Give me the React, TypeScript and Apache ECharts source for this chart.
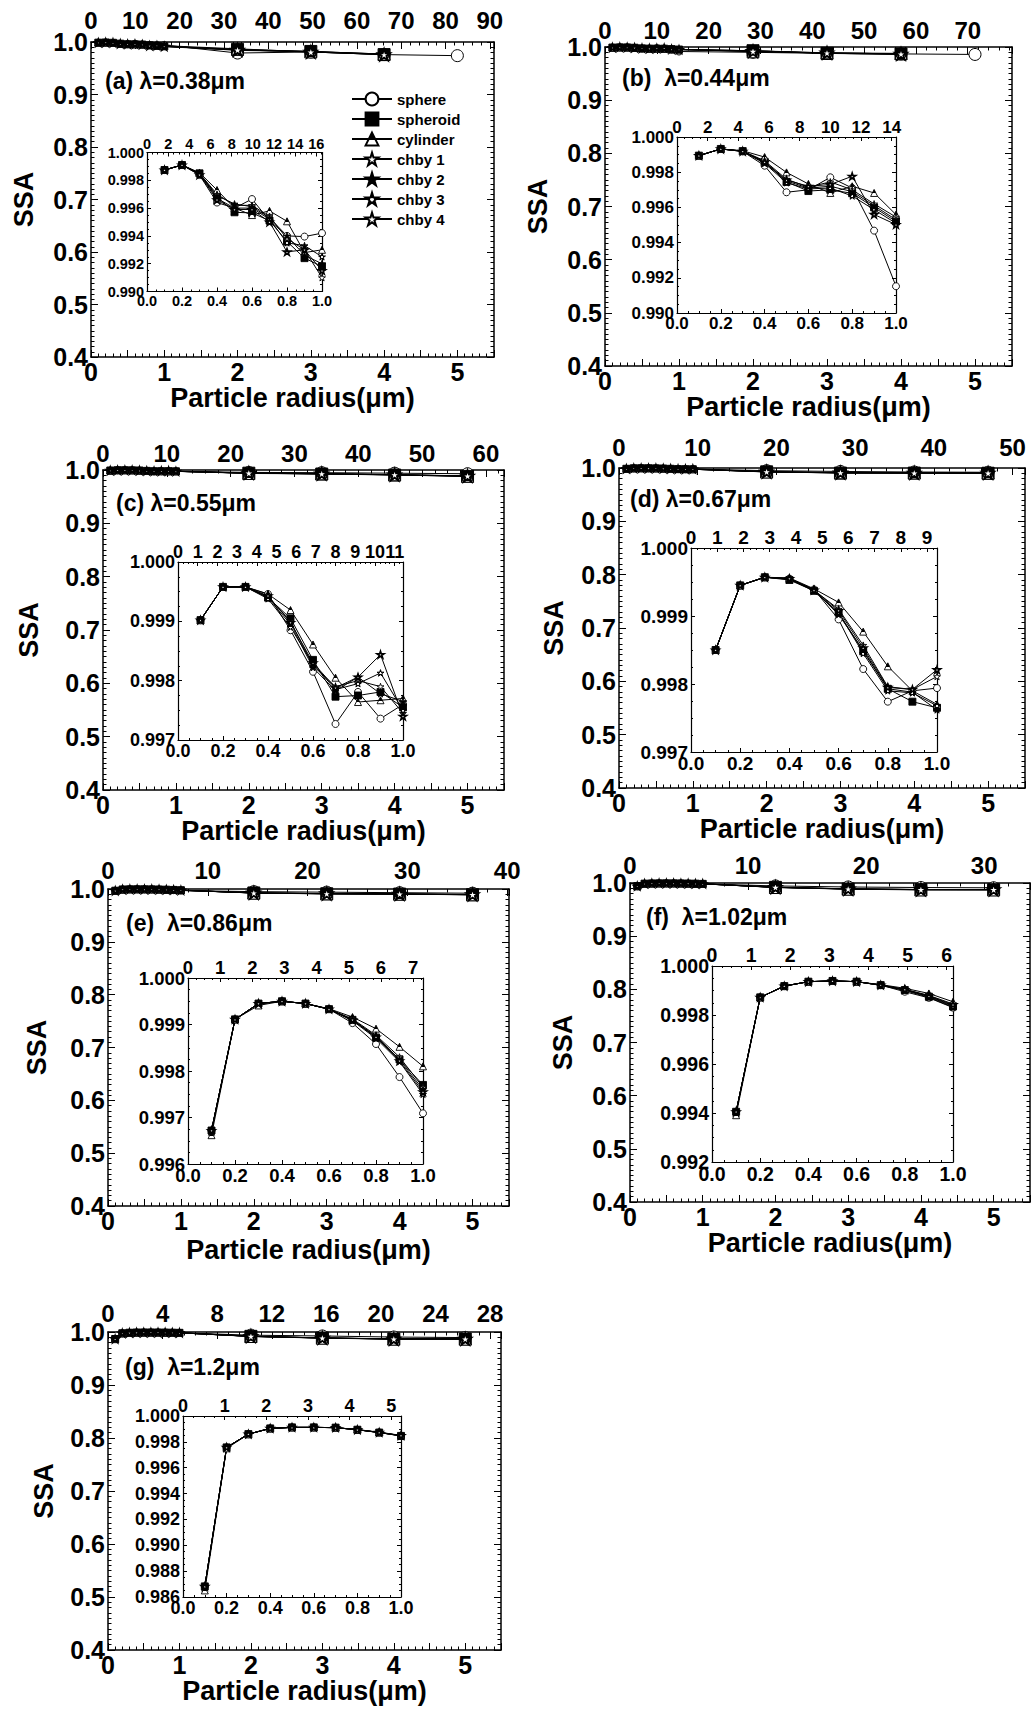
import React, { useEffect, useRef } from "react";
import * as echarts from "echarts";

// ---- data ----------------------------------------------------------------
const SHAPES = ["sphere", "spheroid", "cylinder", "chby 1", "chby 2", "chby 3", "chby 4"];
const WAVELENGTHS = [0.38, 0.44, 0.55, 0.67, 0.86, 1.02, 1.2];
const PANEL_TITLES = [
  "(a) λ=0.38μm",
  "(b)  λ=0.44μm",
  "(c) λ=0.55μm",
  "(d) λ=0.67μm",
  "(e)  λ=0.86μm",
  "(f)  λ=1.02μm",
  "(g)  λ=1.2μm",
];
const RADIUS_FINE = [0.1, 0.2, 0.3, 0.4, 0.5, 0.6, 0.7, 0.8, 0.9, 1.0];
const RADIUS_COARSE = [2, 3, 4, 5];
const RADIUS_MAX = 5.5;

// SSA at r = 0.1 … 1.0 µm, rows in SHAPES order
const fineA = [
  [0.99874, 0.9991, 0.99838, 0.9964, 0.996, 0.99665, 0.9951, 0.994, 0.99395, 0.9942],
  [0.99874, 0.9991, 0.9985, 0.9968, 0.9957, 0.99565, 0.9951, 0.9936, 0.9924, 0.9918],
  [0.99874, 0.9991, 0.99855, 0.9973, 0.996, 0.9955, 0.9958, 0.99505, 0.9928, 0.993],
  [0.99874, 0.9991, 0.9985, 0.997, 0.9962, 0.9962, 0.9954, 0.9938, 0.993, 0.991],
  [0.99874, 0.9991, 0.99848, 0.9969, 0.9963, 0.9961, 0.9953, 0.994, 0.9926, 0.992],
  [0.99874, 0.9991, 0.99845, 0.9967, 0.996, 0.996, 0.9952, 0.9935, 0.9933, 0.9925],
  [0.99874, 0.9991, 0.9984, 0.9966, 0.9959, 0.9959, 0.995, 0.99285, 0.993, 0.9915],
];
const fineB = [
  [0.99894, 0.99932, 0.99918, 0.99837, 0.99686, 0.997, 0.99771, 0.9971, 0.99468, 0.99152],
  [0.99894, 0.99932, 0.9992, 0.9986, 0.99745, 0.99693, 0.997, 0.9968, 0.996, 0.9952],
  [0.99894, 0.99932, 0.99922, 0.99886, 0.99799, 0.99733, 0.99682, 0.9972, 0.99682, 0.99559],
  [0.99894, 0.99932, 0.9992, 0.99865, 0.9976, 0.99715, 0.99745, 0.997, 0.9962, 0.99545],
  [0.99894, 0.99932, 0.9992, 0.99855, 0.9975, 0.9971, 0.9972, 0.9969, 0.9961, 0.9953],
  [0.99894, 0.99932, 0.99918, 0.9985, 0.9974, 0.99705, 0.9971, 0.99665, 0.99587, 0.9951],
  [0.99894, 0.99932, 0.99919, 0.99858, 0.99755, 0.9972, 0.9973, 0.99777, 0.9956, 0.99502],
];
const fineC = [
  [0.99902, 0.99958, 0.99958, 0.99946, 0.99885, 0.99815, 0.99727, 0.99781, 0.99736, 0.9976],
  [0.99902, 0.99958, 0.99958, 0.9994, 0.99905, 0.99835, 0.99773, 0.99775, 0.99781, 0.99755],
  [0.99902, 0.99958, 0.99958, 0.99946, 0.99919, 0.99861, 0.99805, 0.99764, 0.99767, 0.9977],
  [0.99902, 0.99958, 0.99958, 0.99942, 0.999, 0.99825, 0.9979, 0.998, 0.9979, 0.99745],
  [0.99902, 0.99958, 0.99958, 0.9994, 0.99895, 0.99822, 0.99783, 0.99806, 0.99778, 0.99765],
  [0.99902, 0.99958, 0.99958, 0.99938, 0.9989, 0.99828, 0.99785, 0.99795, 0.99813, 0.9975],
  [0.99902, 0.99958, 0.99958, 0.99943, 0.99898, 0.9983, 0.99788, 0.99806, 0.99844, 0.9974],
];
const fineD = [
  [0.9985, 0.99945, 0.99957, 0.99955, 0.99939, 0.99895, 0.99822, 0.99774, 0.9979, 0.99794],
  [0.9985, 0.99945, 0.99957, 0.99953, 0.99937, 0.99905, 0.99848, 0.99793, 0.99774, 0.99765],
  [0.9985, 0.99945, 0.99957, 0.99956, 0.9994, 0.9992, 0.99877, 0.99826, 0.9979, 0.9977],
  [0.9985, 0.99945, 0.99957, 0.99955, 0.99938, 0.9991, 0.99857, 0.99796, 0.99792, 0.99811],
  [0.9985, 0.99945, 0.99957, 0.99954, 0.99938, 0.99902, 0.9985, 0.99793, 0.99788, 0.99762],
  [0.9985, 0.99945, 0.99957, 0.99954, 0.99937, 0.99905, 0.99845, 0.9979, 0.99787, 0.99768],
  [0.9985, 0.99945, 0.99957, 0.99955, 0.99938, 0.99908, 0.99853, 0.99795, 0.99792, 0.99821],
];
const fineE = [
  [0.99672, 0.99911, 0.99945, 0.9995, 0.99945, 0.99933, 0.99903, 0.99858, 0.99787, 0.99709],
  [0.99672, 0.99911, 0.99945, 0.9995, 0.99945, 0.99933, 0.9991, 0.99872, 0.99825, 0.9977],
  [0.99662, 0.99911, 0.99941, 0.9995, 0.99945, 0.99934, 0.99916, 0.99891, 0.99852, 0.9981],
  [0.99672, 0.99911, 0.99945, 0.9995, 0.99945, 0.99933, 0.99912, 0.99877, 0.9983, 0.99765],
  [0.99672, 0.99911, 0.99945, 0.9995, 0.99945, 0.99933, 0.9991, 0.99875, 0.99825, 0.9976],
  [0.99672, 0.99911, 0.99945, 0.9995, 0.99945, 0.99933, 0.99908, 0.9987, 0.9982, 0.9975],
  [0.99672, 0.99911, 0.99945, 0.9995, 0.99945, 0.99933, 0.9991, 0.99873, 0.99822, 0.99755],
];
const fineF = [
  [0.99405, 0.99872, 0.99918, 0.99936, 0.99939, 0.99936, 0.99922, 0.99895, 0.9987, 0.9983],
  [0.99405, 0.99872, 0.99918, 0.99936, 0.99939, 0.99936, 0.99922, 0.99902, 0.99875, 0.99835],
  [0.99391, 0.99872, 0.99918, 0.99936, 0.99939, 0.99936, 0.99924, 0.99909, 0.99888, 0.99854],
  [0.99405, 0.99872, 0.99918, 0.99936, 0.99939, 0.99936, 0.99922, 0.99905, 0.9988, 0.99845],
  [0.99405, 0.99872, 0.99918, 0.99936, 0.99939, 0.99936, 0.99922, 0.99903, 0.99877, 0.99838],
  [0.99405, 0.99872, 0.99918, 0.99936, 0.99939, 0.99936, 0.99921, 0.999, 0.99872, 0.99832],
  [0.99405, 0.99872, 0.99918, 0.99936, 0.99939, 0.99936, 0.99922, 0.99904, 0.99878, 0.99842],
];
const fineG = [
  [0.98682, 0.99757, 0.9986, 0.99904, 0.99912, 0.99912, 0.9991, 0.99894, 0.99873, 0.99848],
  [0.98682, 0.99757, 0.9986, 0.99904, 0.99912, 0.99912, 0.9991, 0.99894, 0.99872, 0.99846],
  [0.98651, 0.9975, 0.99858, 0.99904, 0.99912, 0.99912, 0.9991, 0.99895, 0.99875, 0.9985],
  [0.98682, 0.99757, 0.9986, 0.99904, 0.99912, 0.99912, 0.9991, 0.99894, 0.99873, 0.99848],
  [0.98682, 0.99757, 0.9986, 0.99904, 0.99912, 0.99912, 0.9991, 0.99894, 0.99872, 0.99847],
  [0.98682, 0.99757, 0.9986, 0.99904, 0.99912, 0.99912, 0.9991, 0.99893, 0.99872, 0.99846],
  [0.98682, 0.99757, 0.9986, 0.99904, 0.99912, 0.99912, 0.9991, 0.99894, 0.99873, 0.99849],
];

// SSA at r = 2, 3, 4, 5 µm (shorter rows stop at 4 µm)
const coarseA = [
  [0.979, 0.981, 0.976, 0.974],
  [0.986, 0.982, 0.976],
  [0.987, 0.981, 0.977],
  [0.985, 0.982, 0.977],
  [0.985, 0.981, 0.976],
  [0.984, 0.982, 0.977],
  [0.985, 0.981, 0.976],
];
const coarseB = [
  [0.99, 0.988, 0.987, 0.986],
  [0.993, 0.988, 0.987],
  [0.991, 0.989, 0.988],
  [0.993, 0.989, 0.987],
  [0.992, 0.988, 0.987],
  [0.993, 0.988, 0.986],
  [0.992, 0.989, 0.987],
];
const coarseC = [
  [0.9955, 0.995, 0.994, 0.993],
  [0.994, 0.9925, 0.9906, 0.988],
  [0.9935, 0.9928, 0.991, 0.9885],
  [0.9942, 0.993, 0.9912, 0.9888],
  [0.994, 0.9927, 0.9908, 0.9882],
  [0.9941, 0.9929, 0.991, 0.9886],
  [0.9943, 0.9931, 0.9913, 0.9889],
];
const coarseD = [
  [0.995, 0.9935, 0.9925, 0.992],
  [0.9928, 0.9905, 0.9905, 0.9902],
  [0.9925, 0.991, 0.9908, 0.9905],
  [0.993, 0.9912, 0.9907, 0.9904],
  [0.9927, 0.9908, 0.9906, 0.9903],
  [0.9929, 0.9911, 0.9906, 0.9902],
  [0.9931, 0.9913, 0.9908, 0.9906],
];
const coarseE = [
  [0.995, 0.994, 0.993, 0.992],
  [0.9925, 0.991, 0.9904, 0.9892],
  [0.9922, 0.9908, 0.9902, 0.989],
  [0.9926, 0.9912, 0.9906, 0.9894],
  [0.9924, 0.9909, 0.9903, 0.9891],
  [0.9925, 0.9911, 0.9905, 0.9893],
  [0.9927, 0.9913, 0.9907, 0.9895],
];
const coarseF = [
  [0.9945, 0.9925, 0.9915, 0.991],
  [0.9918, 0.9887, 0.9875, 0.9874],
  [0.9915, 0.9884, 0.987, 0.987],
  [0.992, 0.9889, 0.9877, 0.9876],
  [0.9918, 0.9886, 0.9874, 0.9873],
  [0.9919, 0.9888, 0.9876, 0.9875],
  [0.9921, 0.989, 0.9878, 0.9877],
];
const coarseG = [
  [0.994, 0.9925, 0.9905, 0.9895],
  [0.9918, 0.9887, 0.9868, 0.9868],
  [0.9915, 0.9884, 0.9865, 0.9865],
  [0.9919, 0.9888, 0.9869, 0.9869],
  [0.9917, 0.9886, 0.9867, 0.9867],
  [0.9918, 0.9887, 0.9868, 0.9868],
  [0.992, 0.9889, 0.987, 0.987],
];

const FINE = [fineA, fineB, fineC, fineD, fineE, fineF, fineG];
const COARSE = [coarseA, coarseB, coarseC, coarseD, coarseE, coarseF, coarseG];

// inset SSA axis: [min, max, interval]
const INSET_SSA_AXIS = [
  [0.99, 1.0, 0.002],
  [0.99, 1.0, 0.002],
  [0.997, 1.0, 0.001],
  [0.997, 1.0, 0.001],
  [0.996, 1.0, 0.001],
  [0.992, 1.0, 0.002],
  [0.986, 1.0, 0.002],
];
const MAIN_SIZE_STEP = [10, 10, 10, 10, 10, 10, 4];
const INSET_SIZE_STEP = [2, 2, 1, 1, 1, 1, 1];

// ---- layout (px) ------------------------------------------------------------
const MAIN_BOX = [
  [91, 42, 403, 315],
  [605, 47, 407, 319],
  [103, 470, 401, 320],
  [619, 468, 406, 320],
  [108, 889, 401, 317],
  [630, 883, 401, 319],
  [108, 1332, 393, 318],
];
const INSET_BOX = [
  [147, 152.5, 175, 139],
  [677, 137, 219, 176],
  [178, 562, 225, 178],
  [691, 548, 246, 204],
  [188, 978, 235, 186],
  [712, 966, 241, 196],
  [183, 1416, 218, 181],
];
const INSET_FONT = [14.5, 17, 18, 19, 18.5, 19.5, 18];
const MAIN_TOP_MARGIN = [10, 5, 5, 9, 7, 6, 7];
const SSA_NAME_GAP = [54, 54, 61, 52, 58, 54, 51];
const RADIUS_NAME_GAP = [26, 23, 14, 15, 30, 27, 24];
const TITLE_POS = [
  [105, 81],
  [622, 78],
  [116, 503],
  [630, 499],
  [126, 923],
  [646, 917],
  [125, 1367],
];

const FONT = "'Liberation Sans', Arial, Helvetica, sans-serif";
const STAR =
  "path://M0,-10L2.245,-3.09L9.511,-3.09L3.633,1.18L5.878,8.09L0,3.82L-5.878,8.09L-3.633,1.18L-9.511,-3.09L-2.245,-3.09Z";

const halfBlack = {
  type: "linear",
  x: 0,
  y: 0,
  x2: 0,
  y2: 1,
  colorStops: [
    { offset: 0, color: "#000" },
    { offset: 0.55, color: "#000" },
    { offset: 0.56, color: "#fff" },
    { offset: 1, color: "#fff" },
  ],
};
const holedBlack = {
  type: "radial",
  x: 0.5,
  y: 0.55,
  r: 0.5,
  colorStops: [
    { offset: 0, color: "#fff" },
    { offset: 0.3, color: "#fff" },
    { offset: 0.32, color: "#000" },
    { offset: 1, color: "#000" },
  ],
};

const MARKERS: { symbol: string; fill: any; border: number }[] = [
  { symbol: "circle", fill: "#fff", border: 1 },
  { symbol: "rect", fill: "#000", border: 1 },
  { symbol: "triangle", fill: halfBlack, border: 1 },
  { symbol: STAR, fill: "#fff", border: 1 },
  { symbol: STAR, fill: "#000", border: 1 },
  { symbol: STAR, fill: holedBlack, border: 1 },
  { symbol: STAR, fill: "#fff", border: 1.8 },
];

function multipleOf(step: number) {
  return (v: number) => {
    const k = v / step;
    return Math.abs(k - Math.round(k)) < 1e-6 ? String(Math.round(k * step)) : "";
  };
}

function buildOption() {
  const grid: any[] = [];
  const xAxis: any[] = [];
  const yAxis: any[] = [];
  const series: any[] = [];

  const baseAxis = (fontSize: number, tickLen: number, lw: number) => ({
    type: "value",
    splitLine: { show: false },
    axisLine: { show: true, onZero: false, lineStyle: { color: "#000", width: lw } },
    axisTick: { show: true, inside: true, length: tickLen, lineStyle: { color: "#000", width: 1 } },
    minorTick: { show: true, length: tickLen / 2, lineStyle: { color: "#000", width: 1 } },
    axisLabel: { color: "#000", fontSize, fontWeight: "bold", fontFamily: FONT },
  });

  WAVELENGTHS.forEach((lam, p) => {
    // main panel
    const [ml, mt, mw, mh] = MAIN_BOX[p];
    const g = grid.length;
    grid.push({ left: ml, top: mt, width: mw, height: mh, show: true, backgroundColor: "#fff", borderWidth: 0 });
    const mb = baseAxis(25, 7, 1.5);
    xAxis.push({
      ...mb,
      gridIndex: g,
      position: "bottom",
      min: 0,
      max: RADIUS_MAX,
      interval: 0.5,
      minorTick: { ...mb.minorTick, splitNumber: 5 },
      axisLabel: { ...mb.axisLabel, margin: 2, formatter: multipleOf(1) },
      name: "Particle radius(μm)",
      nameLocation: "middle",
      nameGap: RADIUS_NAME_GAP[p],
      nameTextStyle: { color: "#000", fontSize: 27, fontWeight: "bold", fontFamily: FONT },
    });
    xAxis.push({
      ...mb,
      gridIndex: g,
      position: "top",
      min: 0,
      max: (2 * Math.PI * RADIUS_MAX) / lam,
      interval: MAIN_SIZE_STEP[p],
      minorTick: { ...mb.minorTick, splitNumber: 5 },
      axisLabel: { ...mb.axisLabel, fontSize: 24, margin: MAIN_TOP_MARGIN[p], formatter: multipleOf(MAIN_SIZE_STEP[p]) },
    });
    yAxis.push({
      ...mb,
      gridIndex: g,
      position: "left",
      min: 0.4,
      max: 1.0,
      interval: 0.1,
      minorTick: { ...mb.minorTick, splitNumber: 10 },
      axisLabel: { ...mb.axisLabel, margin: 3, formatter: (v: number) => v.toFixed(1) },
      name: "SSA",
      nameLocation: "middle",
      nameRotate: 90,
      nameGap: SSA_NAME_GAP[p],
      nameTextStyle: { color: "#000", fontSize: 27, fontWeight: "bold", fontFamily: FONT },
    });
    yAxis.push({
      ...mb,
      gridIndex: g,
      position: "right",
      min: 0.4,
      max: 1.0,
      interval: 0.1,
      minorTick: { ...mb.minorTick, splitNumber: 10 },
      axisLabel: { show: false },
    });
    SHAPES.forEach((name, s) => {
      const fine = FINE[p][s];
      const coarse = COARSE[p][s];
      const data = [
        ...RADIUS_FINE.map((r, i) => [r, fine[i]]),
        ...coarse.map((v, i) => [RADIUS_COARSE[i], v]),
      ];
      const m = MARKERS[s];
      series.push({
        type: "line",
        name,
        xAxisIndex: 2 * g,
        yAxisIndex: 2 * g,
        data,
        symbol: m.symbol,
        // the closely spaced sub-micron points are drawn smaller than the coarse ones
        symbolSize: (val: number[]) => (val[0] <= 1.0 ? 7 : 12),
        symbolKeepAspect: true,
        showSymbol: true,
        lineStyle: { color: "#000", width: 1 },
        itemStyle: { color: m.fill, borderColor: "#000", borderWidth: m.border },
        emphasis: { disabled: true },
        silent: true,
        z: 3,
      });
    });

    // inset
    const [il, it, iw, ih] = INSET_BOX[p];
    const gi = grid.length;
    const [ymin, ymax, ystep] = INSET_SSA_AXIS[p];
    const fs = INSET_FONT[p];
    grid.push({ left: il, top: it, width: iw, height: ih, show: true, backgroundColor: "#fff", borderWidth: 0, z: 4 });
    const ib = baseAxis(fs, 4, 1.2);
    xAxis.push({
      ...ib,
      gridIndex: gi,
      position: "bottom",
      min: 0,
      max: 1.0,
      interval: 0.2,
      minorTick: { ...ib.minorTick, splitNumber: 4 },
      axisLabel: { ...ib.axisLabel, margin: 2, formatter: (v: number) => v.toFixed(1) },
      z: 5,
    });
    xAxis.push({
      ...ib,
      gridIndex: gi,
      position: "top",
      min: 0,
      max: (2 * Math.PI * 1.0) / lam,
      interval: INSET_SIZE_STEP[p],
      minorTick: { ...ib.minorTick, splitNumber: 4 },
      axisLabel: { ...ib.axisLabel, margin: 1, formatter: multipleOf(INSET_SIZE_STEP[p]) },
      z: 5,
    });
    yAxis.push({
      ...ib,
      gridIndex: gi,
      position: "left",
      min: ymin,
      max: ymax,
      interval: ystep,
      minorTick: { ...ib.minorTick, splitNumber: 4 },
      axisLabel: { ...ib.axisLabel, margin: 3, formatter: (v: number) => v.toFixed(3) },
      z: 5,
    });
    yAxis.push({
      ...ib,
      gridIndex: gi,
      position: "right",
      min: ymin,
      max: ymax,
      interval: ystep,
      minorTick: { ...ib.minorTick, splitNumber: 4 },
      axisLabel: { show: false },
      z: 5,
    });
    SHAPES.forEach((name, s) => {
      const fine = FINE[p][s];
      const m = MARKERS[s];
      series.push({
        type: "line",
        name,
        xAxisIndex: 2 * gi,
        yAxisIndex: 2 * gi,
        data: RADIUS_FINE.map((r, i) => [r, fine[i]]),
        symbol: m.symbol,
        symbolSize: 7,
        symbolKeepAspect: true,
        showSymbol: true,
        lineStyle: { color: "#000", width: 1 },
        itemStyle: { color: m.fill, borderColor: "#000", borderWidth: m.border * 0.9 },
        emphasis: { disabled: true },
        silent: true,
        z: 6,
      });
    });
  });

  const graphic = PANEL_TITLES.map((text, p) => ({
    type: "text",
    x: TITLE_POS[p][0],
    y: TITLE_POS[p][1],
    z: 10,
    style: {
      text,
      fill: "#000",
      font: `bold 23px ${FONT}`,
      textVerticalAlign: "middle",
      verticalAlign: "middle",
      textAlign: "left",
      align: "left",
    },
  }));

  return {
    animation: false,
    backgroundColor: "#fff",
    textStyle: { fontFamily: FONT },
    grid,
    xAxis,
    yAxis,
    series,
    graphic,
    legend: {
      data: SHAPES,
      orient: "vertical",
      left: 351,
      top: 91,
      padding: 0,
      itemWidth: 40,
      itemHeight: 16,
      itemGap: 4,
      selectedMode: false,
      textStyle: { color: "#000", fontSize: 15, fontWeight: "bold", lineHeight: 16, fontFamily: FONT },
      z: 10,
    },
  };
}

export default function App() {
  const ref = useRef<HTMLDivElement>(null);
  useEffect(() => {
    document.body.style.margin = "0";
    if (!ref.current) return;
    const chart = echarts.init(ref.current, undefined, { renderer: "svg" });
    chart.setOption(buildOption() as any);
    return () => chart.dispose();
  }, []);
  return <div ref={ref} style={{ width: 1033, height: 1710, background: "#fff" }} />;
}
